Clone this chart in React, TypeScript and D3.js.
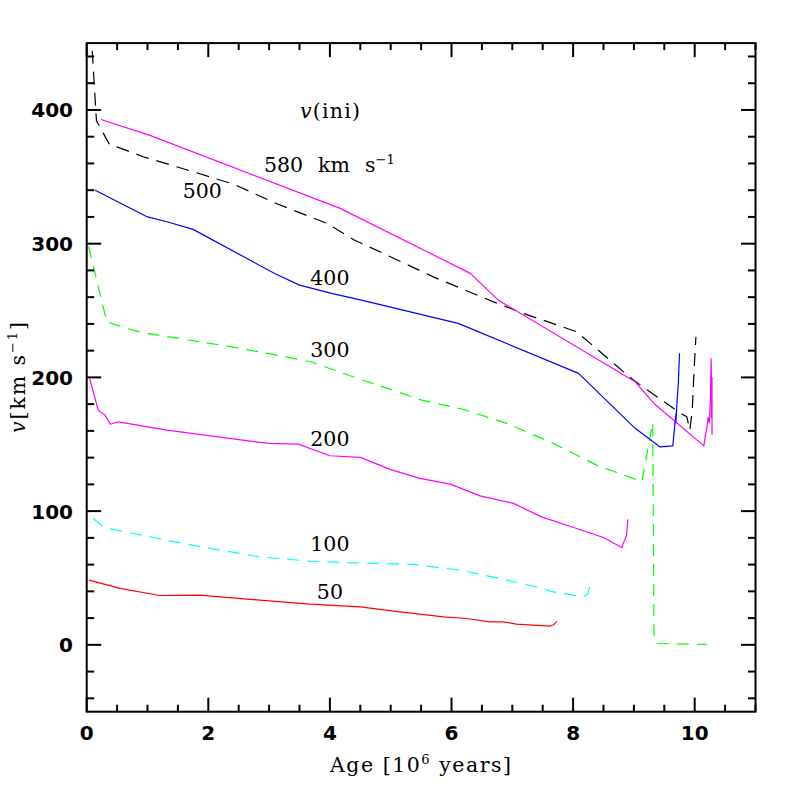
import React from "react";
import * as d3 from "d3";

type P = [number, number];

const xTicksMajor = [0, 2, 4, 6, 8, 10];
const yTicksMajor = [0, 100, 200, 300, 400];

const v50: P[] = [[0.04,48.4],[0.55,42.2],[1.2,36.9],[1.86,37.2],[2.85,33.4],[3.67,30.4],[4.5,28.4],[5.15,24.7],[5.87,20.9],[6.25,19.7],[6.63,17.2],[6.85,17.2],[7.07,15.5],[7.62,14.0],[7.68,15.0],[7.73,17.6]];
const v100: P[] = [[0.11,94.5],[0.27,88.3],[0.36,87],[1.26,78.8],[1.97,72.6],[2.85,65.8],[3.67,62.6],[4.4,61.3],[5.32,60.4],[6.14,55.9],[6.8,49.6],[7.4,43.4],[7.67,39.6],[8.17,35.9],[8.24,38],[8.29,45.9]];
const v200: P[] = [[0.05,199],[0.19,175.5],[0.3,171.8],[0.39,165],[0.52,166.8],[1.32,160.6],[2.99,150.6],[3.48,150.1],[4.0,141.4],[4.5,140.2],[4.99,131.2],[5.48,124.5],[5.98,120.2],[6.47,111.4],[7.02,105.8],[7.48,95.7],[8.06,87],[8.5,80.3],[8.8,72.8],[8.88,82],[8.9,93.8]];
const v300: P[] = [[0.03,298],[0.33,241.6],[0.66,236.6],[0.93,233.4],[2.5,222],[3.4,214.2],[3.7,211.5],[4.41,200],[5.0,191],[5.51,183],[6.2,176],[6.91,165.6],[7.62,151.8],[8.39,134.4],[9.13,122],[9.31,166],[9.33,4.8],[9.37,1],[10.2,0.3]];
const v400: P[] = [[0.14,340],[1.0,320],[1.32,316.4],[1.75,310.7],[3.1,277.5],[3.5,269],[4.06,262.5],[4.5,258],[6.11,240.4],[8.09,203],[9.02,161.9],[9.43,148],[9.64,148.8],[9.68,168],[9.7,175],[9.69,166],[9.71,182],[9.73,195.5],[9.75,218]];
const v500: P[] = [[0.07,460],[0.16,392],[0.38,373.8],[0.52,372],[0.93,365],[1.75,353.8],[2.41,344.6],[3.12,330],[3.95,315.2],[4.4,302.8],[4.88,292.7],[5.7,275.2],[6.69,256.5],[7.18,247.9],[8.06,234.1],[8.99,198],[9.73,174.3],[9.87,170.5],[9.92,160.6],[9.96,175.5],[9.99,205.5],[10.02,230.4]];
const v580: P[] = [[0.235,392.9],[1.04,381],[4.17,326.4],[6.31,277.8],[6.77,257.8],[9.02,196.7],[9.33,180.5],[10.15,148.8],[10.18,158],[10.2,162],[10.22,170],[10.24,166],[10.26,185],[10.27,214],[10.28,190],[10.275,170],[10.285,200],[10.285,157]];

const seriesList = [
  { name: "50", data: v50, color: "#ff0000", dash: "" },
  { name: "100", data: v100, color: "#00ffff", dash: "12,8" },
  { name: "200", data: v200, color: "#ff00ff", dash: "" },
  { name: "300", data: v300, color: "#00ff00", dash: "12,8" },
  { name: "400", data: v400, color: "#0000ff", dash: "" },
  { name: "500", data: v500, color: "#000000", dash: "13,8" },
  { name: "580", data: v580, color: "#ff00ff", dash: "" },
];

const labels: { text: string; x: number; y: number }[] = [
  { text: "500", x: 1.9, y: 334 },
  { text: "400", x: 4.0, y: 269 },
  { text: "300", x: 4.0, y: 215 },
  { text: "200", x: 4.0, y: 149 },
  { text: "100", x: 4.0, y: 70 },
  { text: "50", x: 4.0, y: 34 },
];

export default function App() {
  const W = 797, H = 797;
  const L = 86.7, R = 755.5, T = 43.1, B = 711.7;
  const x = d3.scaleLinear().domain([0, 11]).range([L, R]);
  const y = d3.scaleLinear().domain([-50, 450]).range([B, T]);
  const line = d3.line<P>().x(d => x(d[0])).y(d => y(d[1]));

  const xMinor = d3.range(0, 11.001, 0.5);
  const yMinor = d3.range(-40, 450, 20);

  const tickFont = { fontFamily: "DejaVu Sans", fontWeight: "bold" as const, fontSize: 20 };
  const serif = { fontFamily: "DejaVu Serif", fontSize: 20.5 };

  return (
    <svg width={W} height={H} style={{ position: "absolute", left: 0, top: 0, background: "#fff" }}>
      <defs>
        <clipPath id="plot">
          <rect x={L} y={T} width={R - L} height={B - T} />
        </clipPath>
      </defs>
      <rect x={0} y={0} width={W} height={H} fill="#fff" />
      <g clipPath="url(#plot)" fill="none">
        {seriesList.map(s => (
          <path key={s.name + s.color} d={line(s.data) || ""} stroke={s.color} strokeWidth={1.2}
            strokeDasharray={s.dash || undefined} strokeLinejoin="round" />
        ))}
      </g>
      <g stroke="#000" strokeWidth={2}>
        {xMinor.map(t => {
          const major = Math.abs(t % 2) < 1e-9;
          const len = major ? 14 : 7;
          return (
            <g key={"xt" + t}>
              <line x1={x(t)} x2={x(t)} y1={B} y2={B - len} />
              <line x1={x(t)} x2={x(t)} y1={T} y2={T + len} />
            </g>
          );
        })}
        {yMinor.map(t => {
          const major = Math.abs(t % 100) < 1e-9;
          const len = major ? 14.5 : 7.5;
          return (
            <g key={"yt" + t}>
              <line x1={L} x2={L + len} y1={y(t)} y2={y(t)} />
              <line x1={R} x2={R - len} y1={y(t)} y2={y(t)} />
            </g>
          );
        })}
        <rect x={L} y={T} width={R - L} height={B - T} fill="none" />
      </g>
      {xTicksMajor.map(t => (
        <text key={"xl" + t} x={x(t)} y={740} textAnchor="middle" style={tickFont}>{t}</text>
      ))}
      {yTicksMajor.map(t => (
        <text key={"yl" + t} x={73} y={y(t) + 7.5} textAnchor="end" style={tickFont}>{t}</text>
      ))}
      <text x={330} y={771.5} style={serif} textLength={181} lengthAdjust="spacing">
        Age [10<tspan dy={-8} fontSize={13}>6</tspan><tspan dy={8}> years]</tspan>
      </text>
      <text transform="translate(25,433) rotate(-90)" style={serif} textLength={111} lengthAdjust="spacing">
        <tspan fontStyle="italic">v</tspan>[km s<tspan dy={-8} fontSize={13}>−1</tspan><tspan dy={8}>]</tspan>
      </text>
      <text x={300} y={118} style={serif} textLength={60} lengthAdjust="spacing">
        <tspan fontStyle="italic">v</tspan>(ini)
      </text>
      <text y={172} style={serif}>
        <tspan x={264}>580</tspan>
        <tspan x={318}>km</tspan>
        <tspan x={365}>s</tspan>
        <tspan dy={-8} fontSize={13}>−1</tspan>
      </text>
      {labels.map(l => (
        <text key={"lab" + l.text} x={x(l.x)} y={y(l.y)} textAnchor="middle" style={serif}>{l.text}</text>
      ))}
    </svg>
  );
}
